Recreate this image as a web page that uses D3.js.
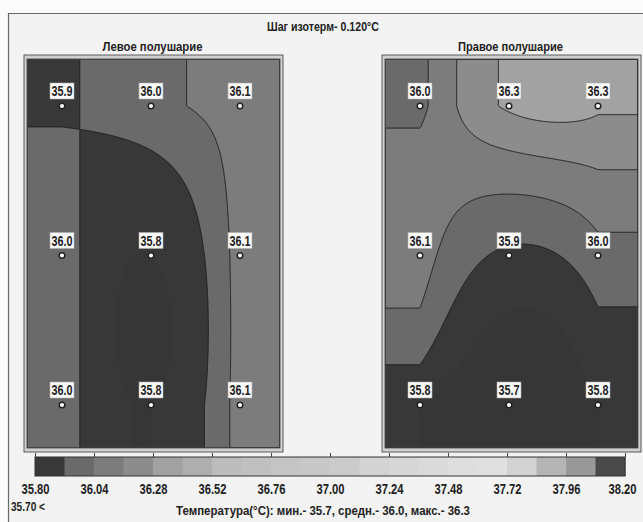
<!DOCTYPE html>
<html>
<head>
<meta charset="utf-8">
<script src="https://cdn.jsdelivr.net/npm/d3@7"></script>
<style>
  body { margin: 0; background: #fbfbfb; }
  text { font-family: "Liberation Sans", Arial, sans-serif; font-weight: bold; fill: #222; }
</style>
</head>
<body>
<svg id="chart"></svg>
<script>
// measured temperatures, 3 rows x 3 columns per hemisphere
const leftValues = [
  [35.9, 36.0, 36.1],
  [36.0, 35.8, 36.1],
  [36.0, 35.8, 36.1],
];
const rightValues = [
  [36.0, 36.3, 36.3],
  [36.1, 35.9, 36.0],
  [35.8, 35.7, 35.8],
];
const panelTitles = ['Левое полушарие', 'Правое полушарие'];

// isotherm levels (step 0.12) and band greys
const bandStarts = [35.70, 35.80, 35.92, 36.04, 36.16, 36.28, 36.40, 36.52, 36.64, 36.76, 36.88,
  37.00, 37.12, 37.24, 37.36, 37.48, 37.60, 37.72, 37.84, 37.96, 38.08];
const bandColors = ['#363636', '#383838', '#6a6a6a', '#7c7c7c', '#8c8c8c', '#a2a2a2', '#aeaeae',
  '#bcbcbc', '#c0c0c0', '#c5c5c5', '#c8c8c8', '#cbcbcb', '#d3d3d3', '#d7d7d7', '#dadada',
  '#dedede', '#e0e0e0', '#d2d2d2', '#b5b5b5', '#999999', '#4a4a4a'];
const legendTicks = [35.80, 36.04, 36.28, 36.52, 36.76, 37.00, 37.24, 37.48, 37.72, 37.96, 38.20];

const width = 643;
const height = 522;
const panelW = 253;
const panelH = 389;
const panelY = 59;
const panelXs = [27, 385];

const svg = d3.select('#chart').attr('width', width).attr('height', height);

// squeeze text to a narrow face
const narrow = (sel, k) => {
  sel.each(function () {
    const w = this.getComputedTextLength();
    d3.select(this).attr('textLength', w * k).attr('lengthAdjust', 'spacingAndGlyphs');
  });
};
const fit = (sel, w) => {
  sel.attr('textLength', w).attr('lengthAdjust', 'spacingAndGlyphs');
};

// page frame
svg.append('rect').attr('x', 8).attr('y', 13).attr('width', width - 8).attr('height', height - 13)
  .attr('fill', '#f3f3f3');
svg.append('path').attr('d', 'M8.5,' + height + 'V13.5H' + width)
  .attr('fill', 'none').attr('stroke', '#6a6a6a').attr('stroke-width', 1.2);

svg.append('text').attr('x', 323).attr('y', 31).attr('text-anchor', 'middle')
  .attr('font-size', 13).text('Шаг изотерм- 0.120°C').call(fit, 112);

const xGrid = d3.scaleLinear().domain([0, 2]).range([35, 213]);
const yGrid = d3.scaleLinear().domain([0, 2]).range([47, 346]);
const color = d3.scaleThreshold().domain(bandStarts.slice(1)).range(bandColors);

const lagrange = (v, t) => {
  return v[0] * (t - 1) * (t - 2) / 2 - v[1] * t * (t - 2) + v[2] * t * (t - 1) / 2;
};

const fieldAt = (grid, px, py) => {
  const gx = Math.max(0, Math.min(2, xGrid.invert(px)));
  const gy = Math.max(0, Math.min(2, yGrid.invert(py)));
  const col = grid.map((row) => lagrange(row, gx));
  return lagrange(col, gy);
};

const drawPanel = (grid, x0, title, idx) => {
  const g = svg.append('g').attr('transform', 'translate(' + x0 + ',' + panelY + ')');

  svg.append('text').attr('x', x0 + panelW / 2 - 1).attr('y', 51).attr('text-anchor', 'middle')
    .attr('font-size', 13).text(title).call(fit, idx === 0 ? 100 : 105);

  // bevel frame
  g.append('rect').attr('x', -3).attr('y', -4).attr('width', panelW + 6).attr('height', panelH + 8)
    .attr('fill', '#d0d0d0').attr('stroke', '#5a5a5a').attr('stroke-width', 1);

  g.append('clipPath').attr('id', 'clip' + idx)
    .append('rect').attr('width', panelW).attr('height', panelH);

  const vals = new Array(panelW * panelH);
  for (let j = 0; j < panelH; j++) {
    for (let i = 0; i < panelW; i++) {
      vals[j * panelW + i] = fieldAt(grid, i + 0.5, j + 0.5);
    }
  }
  const contours = d3.contours().size([panelW, panelH]).thresholds(bandStarts)(vals);
  const path = d3.geoPath();

  const body = g.append('g').attr('clip-path', 'url(#clip' + idx + ')');
  body.append('rect').attr('width', panelW).attr('height', panelH).attr('fill', bandColors[0]);
  body.selectAll('path.band')
    .data(contours)
    .enter()
    .append('path')
    .attr('class', 'band')
    .attr('d', path)
    .attr('fill', (c) => color(c.value));
  body.selectAll('path.iso')
    .data(contours.slice(2))
    .enter()
    .append('path')
    .attr('class', 'iso')
    .attr('d', path)
    .attr('fill', 'none')
    .attr('stroke', '#1c1c1c')
    .attr('stroke-width', 1);

  g.append('rect').attr('width', panelW).attr('height', panelH)
    .attr('fill', 'none').attr('stroke', '#444').attr('stroke-width', 0.8);

  // measurement points
  const points = [];
  grid.forEach((row, r) => row.forEach((v, c) => points.push({ r: r, c: c, v: v })));

  const pt = g.selectAll('g.pt').data(points).enter().append('g').attr('class', 'pt')
    .attr('transform', (d) => 'translate(' + xGrid(d.c) + ',' + yGrid(d.r) + ')');
  pt.append('rect').attr('x', -12).attr('y', -23).attr('width', 24).attr('height', 16)
    .attr('fill', '#fafafa').attr('stroke', '#aaa').attr('stroke-width', 0.6);
  pt.append('text').attr('y', -10).attr('text-anchor', 'middle').attr('font-size', 14)
    .text((d) => d.v.toFixed(1)).call(narrow, 0.77);
  pt.append('circle').attr('r', 2.8).attr('fill', '#fff').attr('stroke', '#222').attr('stroke-width', 1.5);
};

drawPanel(leftValues, panelXs[0], panelTitles[0], 0);
drawPanel(rightValues, panelXs[1], panelTitles[1], 1);

// colour legend
const legendScale = d3.scaleLinear().domain([35.80, 38.20]).range([35, 625]);
const lg = svg.append('g');
lg.selectAll('rect.band')
  .data(bandStarts.slice(1))
  .enter()
  .append('rect')
  .attr('class', 'band')
  .attr('x', (d) => legendScale(d))
  .attr('y', 457)
  .attr('width', (d) => legendScale(d + 0.12) - legendScale(d) + 0.5)
  .attr('height', 19)
  .attr('fill', (d) => color(d));
lg.append('rect').attr('x', 35).attr('y', 457).attr('width', 590).attr('height', 19)
  .attr('fill', 'none').attr('stroke', '#333').attr('stroke-width', 1);

const tickAxis = d3.axisTop(legendScale).tickValues(legendTicks).tickSize(4).tickFormat('');
lg.append('g').attr('transform', 'translate(0,457)').call(tickAxis)
  .call((a) => a.select('.domain').remove())
  .selectAll('line').attr('stroke', '#444');

const labelAxis = d3.axisBottom(legendScale).tickValues(legendTicks).tickSize(0).tickPadding(8)
  .tickFormat(d3.format('.2f'));
lg.append('g').attr('transform', 'translate(0,476)').call(labelAxis)
  .call((a) => a.select('.domain').remove())
  .selectAll('text').attr('font-size', 14).attr('font-family', null).attr('fill', '#222')
  .attr('dx', (d) => (d === 38.20 ? -3 : 0))
  .call(narrow, 0.8);

svg.append('text').attr('x', 11).attr('y', 511).attr('font-size', 13).text('35.70 <').call(fit, 34);
svg.append('text').attr('x', 323).attr('y', 515).attr('text-anchor', 'middle').attr('font-size', 13)
  .text('Температура(°С): мин.- 35.7, средн.- 36.0, макс.- 36.3').call(fit, 294);
</script>
</body>
</html>
